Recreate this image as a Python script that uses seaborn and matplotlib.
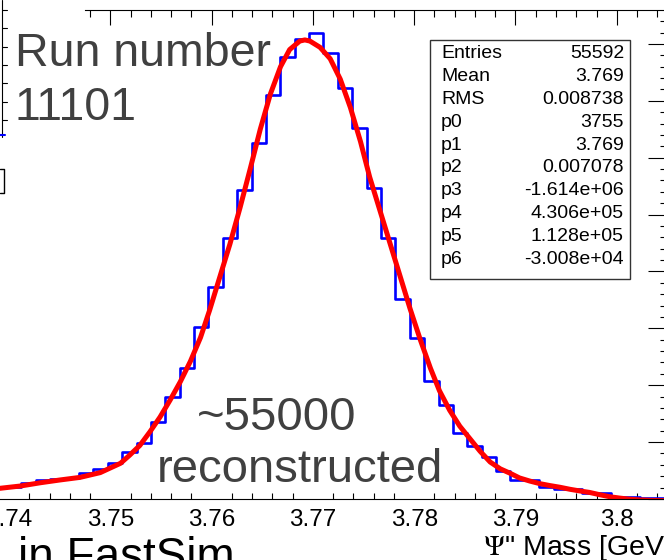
import numpy as np
import pandas as pd
import matplotlib
matplotlib.use("Agg")
import matplotlib.pyplot as plt
from matplotlib.ticker import FixedLocator, MultipleLocator
from matplotlib.lines import Line2D
from matplotlib.patches import Rectangle
import seaborn as sns

# Histogram of the Psi'' mass (counts per bin)
bin_lo = 3.7398
bin_w = 0.00142
counts = [105, 140, 167, 176, 185, 228, 264, 319, 416, 490,
          680, 899, 1149, 1515, 1861, 2292, 2716, 3127, 3551, 3883,
          4041, 4099, 3918, 3616, 3258, 2731, 2292, 1755, 1412, 1040,
          824, 577, 466, 367, 246, 167, 167, 103, 85, 85,
          55, 55, 20, 20, 6, 5]

# fitted curve (gaus + pol3)
fit_x = [3.7391, 3.7411, 3.7431, 3.7450, 3.7470, 3.7490, 3.7510, 3.7519,
         3.7529, 3.7539, 3.7549, 3.7559, 3.7569, 3.7579, 3.7589, 3.7598,
         3.7608, 3.7618, 3.7628, 3.7638, 3.7648, 3.7658, 3.7668, 3.7677,
         3.7687, 3.7692, 3.7697, 3.7707, 3.7717, 3.7727, 3.7737, 3.7747,
         3.7756, 3.7766, 3.7776, 3.7786, 3.7796, 3.7806, 3.7816, 3.7825,
         3.7835, 3.7845, 3.7855, 3.7865, 3.7875, 3.7885, 3.7895, 3.7904,
         3.7914, 3.7924, 3.7934, 3.7944, 3.7954, 3.7964, 3.7973, 3.7983,
         3.7993, 3.8003, 3.8013, 3.8023, 3.8033, 3.8050]
fit_y = [94, 114, 143, 167, 190, 232, 314, 385,
         470, 590, 720, 870, 1030, 1210, 1420, 1660,
         1950, 2240, 2560, 2900, 3250, 3560, 3800, 3950,
         4025, 4035, 4025, 3970, 3870, 3690, 3440, 3140,
         2830, 2540, 2250, 1960, 1670, 1400, 1150, 950,
         780, 640, 530, 420, 325, 265, 225, 185,
         158, 135, 118, 103, 85, 70, 58, 38,
         20, 8, -2, -8, -12, -15]

xtick_vals = [3.74, 3.75, 3.76, 3.77, 3.78, 3.79, 3.80]
xtick_labels = ["3.74", "3.75", "3.76", "3.77", "3.78", "3.79", "3.8"]

stat_names = ["Entries", "Mean", "RMS", "p0", "p1", "p2", "p3", "p4", "p5", "p6"]
stat_values = ["55592", "3.769", "0.008738", "3755", "3.769", "0.007078",
               "-1.614e+06", "4.306e+05", "1.128e+05", "-3.008e+04"]

sns.set_theme(style="white")
plt.rcParams["font.family"] = ["Liberation Sans", "DejaVu Sans"]
plt.rcParams["mathtext.fontset"] = "stix"
plt.rcParams["axes.edgecolor"] = "black"
plt.rcParams["xtick.color"] = "black"
plt.rcParams["ytick.color"] = "black"

W, H = 664, 560
fig = plt.figure(figsize=(W / 100, H / 100), dpi=100)
ax = fig.add_axes([0, 61 / H, 667 / W, 489 / H])

edges = [float(v) for v in bin_lo + bin_w * np.arange(len(counts) + 1)]
hist_df = pd.DataFrame({"mass": [e + bin_w / 2 for e in edges[:-1]], "n": counts})
sns.histplot(data=hist_df, x="mass", weights="n", bins=edges, element="step",
             fill=False, color="#0000ff", linewidth=1.9, ax=ax)
sns.lineplot(x=fit_x, y=fit_y, color="#ff0000", linewidth=3.6, sort=False, ax=ax)

ax.set_xlim(3.7391, 3.80496)
ax.set_ylim(0, 4298)
ax.set_xlabel("")
ax.set_ylabel("")

ax.spines["left"].set_visible(False)
ax.spines["top"].set_visible(False)
for s in ["bottom", "right"]:
    ax.spines[s].set_linewidth(0.8)

ax.set_xticks(xtick_vals)
ax.set_xticklabels(xtick_labels, fontsize=17.5)
ax.xaxis.set_minor_locator(MultipleLocator(0.002))
ax.tick_params(axis="x", which="major", direction="in", length=8.6, width=0.8, pad=7)
ax.tick_params(axis="x", which="minor", direction="in", length=4.3, width=0.8, bottom=True)

ax.yaxis.set_major_locator(MultipleLocator(500))
ax.yaxis.set_minor_locator(MultipleLocator(100))
ax.tick_params(axis="y", which="both", left=False, right=True, labelleft=False,
               labelright=False, direction="in", width=0.8)
ax.tick_params(axis="y", which="major", length=13.5)
ax.tick_params(axis="y", which="minor", length=5)

# top axis, partly hidden behind the title box on the left
sec = ax.secondary_xaxis("top")
sec.set_xticks([3.75, 3.76, 3.77, 3.78, 3.79, 3.80])
sec.xaxis.set_minor_locator(FixedLocator(list(np.arange(3.748, 3.806, 0.002))))
sec.tick_params(axis="x", which="both", direction="in", labeltop=False, width=0.8)
sec.tick_params(axis="x", which="major", length=10.8)
sec.tick_params(axis="x", which="minor", length=5)
sec.spines["top"].set_bounds(3.7475, 3.806)
sec.spines["top"].set_linewidth(0.8)

# stats box
bx0, bx1, by0, by1 = 430, 630, 40, 279
fig.add_artist(Rectangle((bx0 / W, 1 - by1 / H), (bx1 - bx0) / W, (by1 - by0) / H,
                         transform=fig.transFigure, facecolor="white",
                         edgecolor="#333333", linewidth=1.0))
for i, (nm, val) in enumerate(zip(stat_names, stat_values)):
    yb = 1 - (58.5 + 22.8 * i) / H
    fig.text(441 / W, yb, nm, fontsize=14, color="black", va="baseline", ha="left")
    fig.text(624 / W, yb, val, fontsize=14, color="black", va="baseline", ha="right")

# slide annotations
gray = "#404040"
fig.text(15 / W, 1 - 66 / H, "Run number", fontsize=33.5, color=gray, va="baseline")
fig.text(15 / W, 1 - 120 / H, "11101", fontsize=33.5, color=gray, va="baseline")
fig.text(277 / W, 1 - 430 / H, "~55000", fontsize=34, color=gray, va="baseline", ha="center")
fig.text(300 / W, 1 - 482 / H, "reconstructed", fontsize=34, color=gray, va="baseline", ha="center")
fig.text(18 / W, 1 - 570 / H, "in FastSim", fontsize=33, color="black", va="baseline")
fig.text(483 / W, 1 - 555 / H, "$\\Psi$\" Mass [GeV]", fontsize=20.5, color="black", va="baseline")

# edge of the neighbouring plot on the left
fig.add_artist(Line2D([2 / W, 2 / W], [1, 1 - 137 / H], color="black", lw=0.8,
                      transform=fig.transFigure))
for ty in [10, 28, 47, 65, 83, 102, 120]:
    fig.add_artist(Line2D([2 / W, 7 / W], [1 - ty / H, 1 - ty / H], color="black",
                          lw=0.8, transform=fig.transFigure))
fig.add_artist(Line2D([0, 5 / W], [1 - 135 / H, 1 - 135 / H], color="#0000ff", lw=1.5,
                      transform=fig.transFigure))
fig.add_artist(Line2D([0, 4 / W, 4 / W, 0], [1 - 169 / H, 1 - 169 / H, 1 - 193 / H, 1 - 193 / H],
                      color="black", lw=1.0, transform=fig.transFigure))

fig.savefig("out.png", dpi=100)
